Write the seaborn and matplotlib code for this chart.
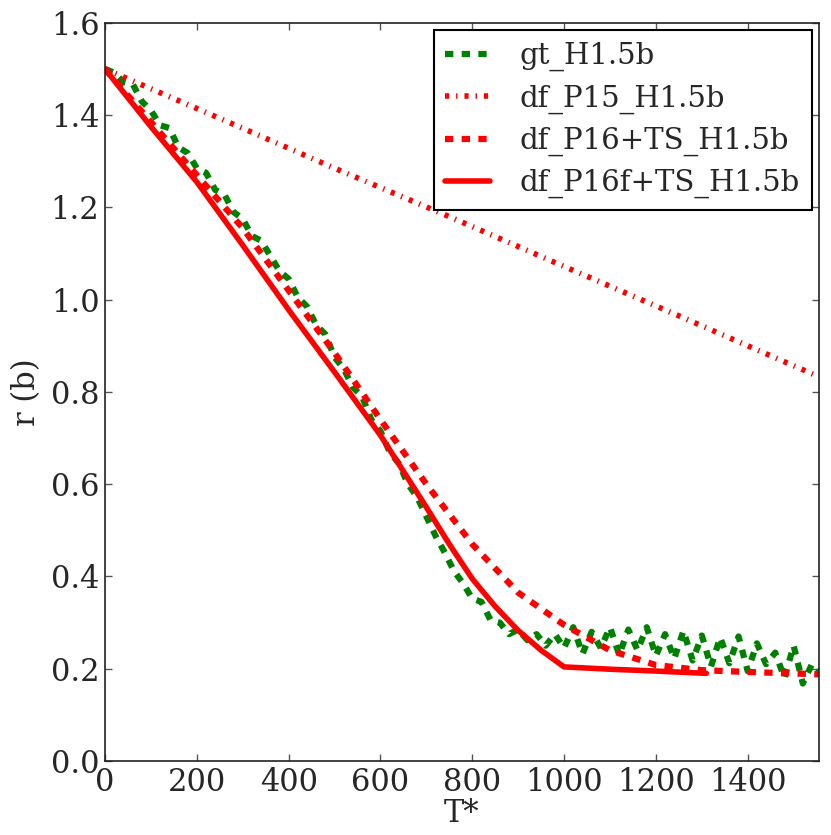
import matplotlib
matplotlib.use('Agg')
import numpy as np
import pandas as pd
import matplotlib.pyplot as plt
import seaborn as sns

# ground truth (noisy)
gt_t = [0, 20, 40, 60, 80, 100, 120, 140, 160, 180, 200, 220, 240, 260, 280, 300,
        320, 340, 360, 380, 400, 420, 440, 460, 480, 500, 520, 540, 560, 580, 600,
        620, 640, 660, 680, 700, 720, 740, 760, 780, 800, 820, 840, 860, 880, 900,
        920, 940, 960, 980, 1000, 1020, 1040, 1060, 1080, 1100, 1120, 1140, 1160,
        1180, 1200, 1220, 1240, 1260, 1280, 1300, 1320, 1340, 1360, 1380, 1400,
        1420, 1440, 1460, 1480, 1500, 1520, 1540, 1555]
gt_r = [1.500, 1.492, 1.472, 1.468, 1.430, 1.410, 1.378, 1.372, 1.330, 1.318,
        1.285, 1.275, 1.238, 1.228, 1.190, 1.175, 1.138, 1.128, 1.095, 1.062,
        1.045, 1.005, 0.985, 0.945, 0.925, 0.875, 0.850, 0.810, 0.790, 0.740,
        0.715, 0.670, 0.645, 0.600, 0.572, 0.530, 0.488, 0.452, 0.412, 0.385,
        0.352, 0.345, 0.305, 0.300, 0.275, 0.285, 0.262, 0.275, 0.250, 0.275,
        0.245, 0.290, 0.232, 0.280, 0.245, 0.290, 0.230, 0.285, 0.240, 0.290,
        0.228, 0.275, 0.222, 0.282, 0.218, 0.272, 0.205, 0.268, 0.212, 0.270,
        0.195, 0.255, 0.210, 0.235, 0.180, 0.250, 0.168, 0.210, 0.195]

# df_P15
p15_t = [0, 250, 500, 750, 1000, 1250, 1555]
p15_r = [1.500, 1.393, 1.285, 1.180, 1.072, 0.965, 0.833]

# df_P16+TS
p16_t = [0, 100, 200, 300, 400, 500, 600, 700, 800, 900, 1000, 1100, 1200, 1300, 1400, 1555]
p16_r = [1.500, 1.385, 1.270, 1.155, 1.020, 0.885, 0.740, 0.600, 0.470, 0.365,
         0.295, 0.240, 0.208, 0.197, 0.193, 0.188]

# df_P16f+TS
p16f_t = [0, 100, 200, 300, 400, 500, 600, 700, 750, 800, 850, 900, 950, 1000, 1100, 1200, 1310]
p16f_r = [1.500, 1.375, 1.255, 1.118, 0.978, 0.843, 0.706, 0.550, 0.470, 0.395,
          0.335, 0.283, 0.240, 0.204, 0.199, 0.195, 0.190]

sns.set_style("ticks")
plt.rcParams['font.family'] = ['DejaVu Serif']
plt.rcParams['lines.scale_dashes'] = False
plt.rcParams['xtick.direction'] = 'in'
plt.rcParams['ytick.direction'] = 'in'

fig = plt.figure(figsize=(8.31, 8.35), dpi=100)
ax = fig.add_axes([0.1264, 0.0886, 0.859, 0.884])

sns.lineplot(x=gt_t, y=gt_r, ax=ax, color='green', lw=4.5, linestyle=(0, (6, 6)),
             label='gt_H1.5b')
sns.lineplot(x=p15_t, y=p15_r, ax=ax, color='red', lw=4, linestyle=(0, (3, 5, 1, 5)),
             label='df_P15_H1.5b')
sns.lineplot(x=p16_t, y=p16_r, ax=ax, color='red', lw=4.5, linestyle=(0, (6, 6)),
             label='df_P16+TS_H1.5b')
sns.lineplot(x=p16f_t, y=p16f_r, ax=ax, color='red', lw=4, linestyle='-',
             label='df_P16f+TS_H1.5b')

ax.set_xlim(0, 1555)
ax.set_ylim(0, 1.6)
ax.set_xticks(np.arange(0, 1401, 200))
ax.set_yticks(np.arange(0, 1.61, 0.2))
ax.set_yticklabels(['%.1f' % v for v in np.arange(0, 1.61, 0.2)])
ax.tick_params(axis='both', which='major', labelsize=22, length=5, width=1,
               color='#555555', top=True, right=True, pad=4)
for s in ax.spines.values():
    s.set_linewidth(1.2)
    s.set_color('#222222')
ax.set_xlabel('T*', fontsize=22, labelpad=0)
ax.set_ylabel('r (b)', fontsize=22, labelpad=6)

leg = ax.legend(loc='upper right', fontsize=21, frameon=True, fancybox=False,
                edgecolor='black', framealpha=1, handlelength=1.55,
                handletextpad=1.0, labelspacing=0.45, borderaxespad=0.25)
leg.get_frame().set_linewidth(1.5)

fig.savefig('out.png', dpi=100)
